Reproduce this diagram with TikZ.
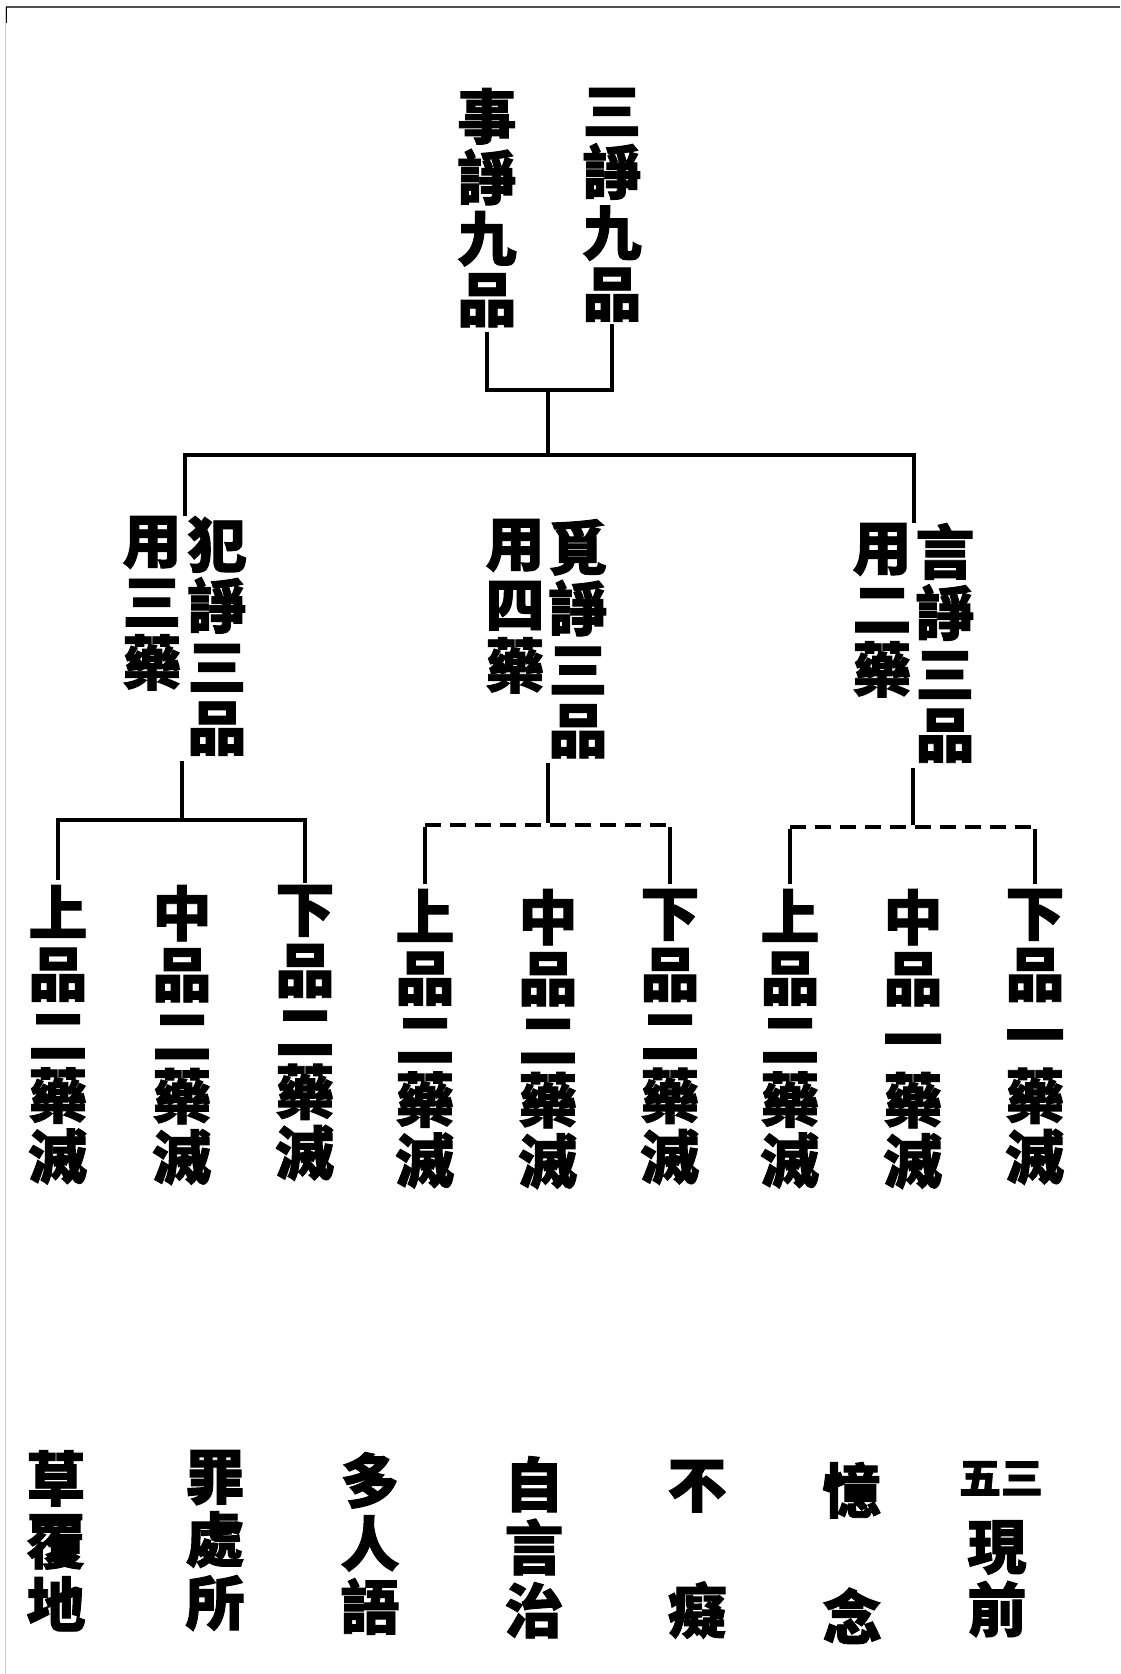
\documentclass[tikz,border=0pt]{standalone}
\usepackage{fontspec}
\newfontfamily\cjk{Noto Sans CJK TC}[BoldFeatures={FakeBold=1.6}]
\usetikzlibrary{calc}
\definecolor{frame dark}{HTML}{505050}
\definecolor{frame light}{HTML}{CCCCCC}

\begin{document}
\begin{tikzpicture}[x=1pt, y=-1pt,
    col/.style={font=\cjk\bfseries\fontsize{59}{61}\selectfont, text width=62pt,
      align=center, inner sep=0pt, anchor=north},
    low col/.style={col, font=\cjk\bfseries\fontsize{59}{63}\selectfont},
    page no/.style={font=\cjk\bfseries\fontsize{42}{44}\selectfont, inner sep=0pt, anchor=north},
    link/.style={line width=4pt, shorten <=5pt, shorten >=2pt},
    stem/.style={line width=4pt},
    broken/.style={line width=4pt, dash pattern=on 16pt off 9pt}]
  \useasboundingbox (0,0) rectangle (1120,1674);
  % page edge
  \draw[frame light, line width=1pt] (5.5,7) -- (5.5,1674);
  \draw[frame dark, line width=2pt] (6,7) -- (1120,7);
  \draw[line width=1.5pt] (6.5,7) -- (6.5,23);

  % top
  \node[col] (shi) at (487,88) {事\\諍\\九\\品};
  \node[col] (san) at (612,88) {三\\諍\\九\\品};
  \coordinate (topbar) at (548,390);
  \coordinate (mainbar) at (548,455);
  \draw[link] (shi.south) |- (topbar) -| (san.south);
  \draw[stem] (topbar) -- (mainbar);

  % three kinds
  \node[col] (fan) at (217,516) {犯\\諍\\三\\品};
  \node[col] (fanyao) at (152,516) {用\\三\\藥};
  \node[col] (mi) at (578,519) {覓\\諍\\三\\品};
  \node[col] (miyao) at (515,519) {用\\四\\藥};
  \node[col] (yan) at (945,523) {言\\諍\\三\\品};
  \node[col] (yanyao) at (882,523) {用\\二\\藥};
  \coordinate (fanmid) at ($(fan.north)!.5!(fanyao.north)$);
  \coordinate (yanmid) at ($(yan.north)!.5!(yanyao.north)$);
  \draw[stem] (fanmid) |- (mainbar) -| (yanmid);

  % nine grades
  \node[col] (fanA) at (58,885) {上\\品\\二\\藥\\滅};
  \node[col] (fanB) at (182,885) {中\\品\\二\\藥\\滅};
  \node[col] (fanC) at (305,885) {下\\品\\二\\藥\\滅};
  \node[col] (miA) at (425,889) {上\\品\\二\\藥\\滅};
  \node[col] (miB) at (548,889) {中\\品\\二\\藥\\滅};
  \node[col] (miC) at (670,889) {下\\品\\二\\藥\\滅};
  \node[col] (yanA) at (790,889) {上\\品\\二\\藥\\滅};
  \node[col] (yanB) at (913,889) {中\\品\\一\\藥\\滅};
  \node[col] (yanC) at (1035,889) {下\\品\\一\\藥\\滅};
  \coordinate (fanbar) at (182,820);
  \coordinate (mibar) at (548,825);
  \coordinate (yanbar) at (913,827);

  \draw[link] (fanbar |- fan.south) -- (fanbar);
  \draw[link] (fanA.north) |- (fanbar) -| (fanC.north);

  \draw[link] (mibar |- mi.south) -- (mibar);
  \draw[broken] (miA.north |- mibar) -- (miC.north |- mibar);
  \draw[link] (miA.north) -- (miA.north |- mibar);
  \draw[link] (miC.north) -- (miC.north |- mibar);

  \draw[link] (yanbar |- yan.south) -- (yanbar);
  \draw[broken] (yanA.north |- yanbar) -- (yanC.north |- yanbar);
  \draw[link] (yanA.north) -- (yanA.north |- yanbar);
  \draw[link] (yanC.north) -- (yanC.north |- yanbar);

  % seven remedies
  \node[low col] (caofu) at (56,1450) {草\\覆\\地};
  \node[low col] (zuichu) at (215,1450) {罪\\處\\所};
  \node[low col] (duoren) at (370,1452) {多\\人\\語};
  \node[low col] (ziyan) at (534,1456) {自\\言\\治};
  \node[low col] (buchi) at (697,1460) {不\\\phantom{不}\\癡};
  \node[low col] (yinian) at (852,1462) {憶\\\phantom{憶}\\念};
  \node[low col] (xianqian) at (997,1520) {現\\前};
  \node[page no] (yeshu) at (1001,1461) {五三};
\end{tikzpicture}
\end{document}
